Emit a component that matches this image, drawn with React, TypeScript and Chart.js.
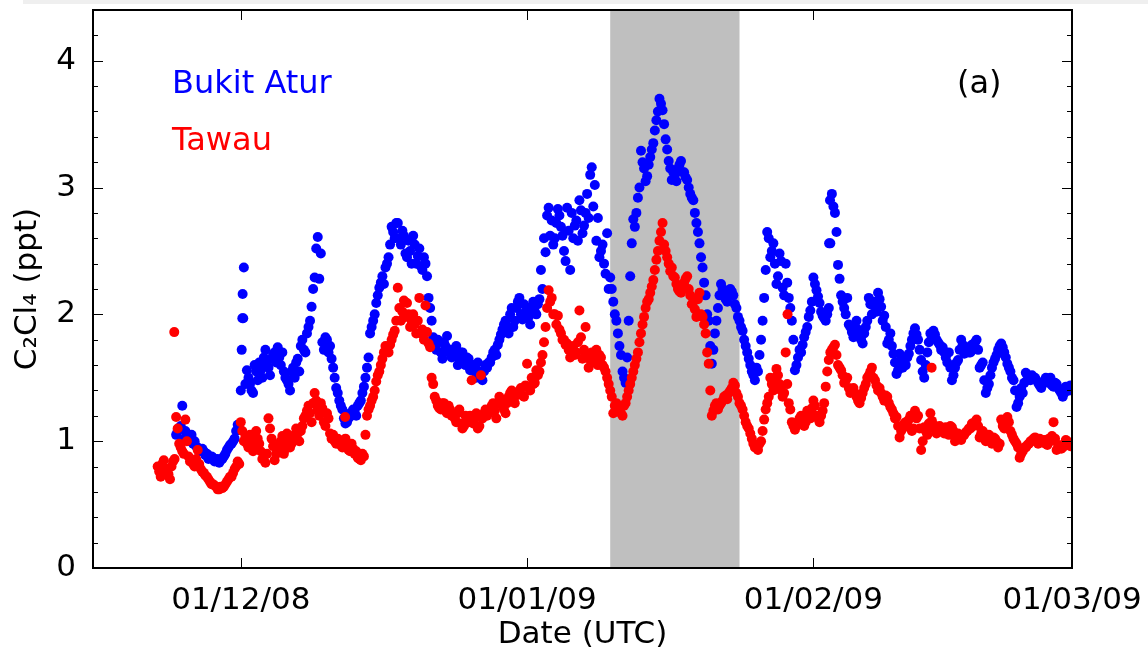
import React, { useEffect, useRef } from 'react';
import { Chart, registerables } from 'chart.js';

Chart.register(...registerables);

// ---- axis / category data (x in days relative to 01/12/2008) ----
const X_MIN_DAY = -16; // 15/11/08
const X_MAX_DAY = 90; // 01/03/09
const X_TICK_DAYS = [0, 31, 62, 90];
const X_TICK_LABELS = ['01/12/08', '01/01/09', '01/02/09', '01/03/09'];
const Y_TICKS = [0, 1, 2, 3, 4];
const Y_MAX = 4.4;
const SHADE_DAYS = [40, 54]; // 10/01/09 – 24/01/09
const SAMPLE_STEP_DAYS = 1 / 3; // 8-hourly samples per run
const RUN_B_OFFSET_DAYS = 1 / 6; // second, interleaved sample run

// ---- Bukit Atur (blue) ----
const BUKIT_START_DAY = -7;
const BUKIT_VALUES_A = [
  1.05, 1.10, 1.28, 1.08, 1.02, 1.05, 1.00, 0.95, 0.93, 0.92, 0.90, 0.88,
  0.87, 0.85, 0.83, 0.86, 0.90, 0.95, 0.98, 1.02, 1.13,
  1.40, 2.37, 1.56, 1.45, 1.38, 1.55, 1.62, 1.50, 1.72, 1.58, 1.65, 1.70,
  1.74, 1.60, 1.55, 1.48, 1.40, 1.58, 1.62, 1.55, 1.80, 1.70, 1.90, 2.06,
  2.29, 2.61, 2.48, 1.72, 1.80, 1.75, 1.58, 1.42, 1.32, 1.25, 1.14, 1.18,
  1.20, 1.24, 1.28, 1.32, 1.43, 1.58, 1.85, 1.95, 2.09, 2.21, 2.30, 2.37,
  2.45, 2.69, 2.60, 2.72, 2.55, 2.62, 2.45, 2.50, 2.62, 2.40, 2.52, 2.35,
  2.40, 2.13, 1.95, 1.75, 1.80, 1.70, 1.78, 1.83, 1.72, 1.68, 1.75, 1.65,
  1.70, 1.60, 1.65, 1.58, 1.55, 1.62, 1.50, 1.55, 1.58, 1.62, 1.70, 1.68,
  1.80, 1.88, 1.95, 1.85, 2.05, 1.95, 2.10, 2.00, 2.08, 2.05, 1.92, 2.10,
  2.00, 2.12, 2.20, 2.49, 2.84, 2.74, 2.60, 2.83, 2.69, 2.50, 2.84, 2.35,
  2.60, 2.74, 2.90, 2.64, 2.80, 2.76, 3.16, 3.02, 2.76, 2.50, 2.40, 2.64,
  2.29, 2.10, 1.95, 1.75, 1.55, 1.46, 1.95, 2.56, 2.69, 2.92, 3.29, 3.15,
  3.09, 3.24, 3.35, 3.53, 3.70, 3.61, 3.38, 3.21, 3.06, 3.10, 3.15, 3.21,
  3.12, 3.06, 2.95, 2.90, 2.72, 2.56, 2.37, 2.15, 1.95, 1.61, 1.85, 2.05,
  2.24, 2.19, 2.10, 2.20, 2.15, 2.05, 1.95, 1.87, 1.75, 1.65, 1.55, 1.48,
  1.55, 1.80, 2.13, 2.65, 2.45, 2.56, 2.24, 2.48, 2.21, 2.40, 2.13, 1.95,
  1.56, 1.66, 1.70, 1.82, 1.90, 2.03, 2.29, 2.19, 2.09, 1.99, 1.95, 2.05,
  2.95, 2.80, 2.39, 2.15, 2.05, 2.13, 1.90, 1.82, 1.95, 1.85, 1.77, 1.90,
  2.13, 2.00, 2.06, 2.17, 2.06, 1.99, 1.77, 1.85, 1.69, 1.53, 1.69, 1.58,
  1.60, 1.69, 1.80, 1.89, 1.80, 1.64, 1.50, 1.70, 1.85, 1.87, 1.80, 1.76,
  1.74, 1.66, 1.70, 1.48, 1.58, 1.64, 1.80, 1.69, 1.74, 1.70, 1.74, 1.80,
  1.58, 1.62, 1.38, 1.45, 1.58, 1.65, 1.72, 1.77, 1.70, 1.61, 1.55, 1.48,
  1.27, 1.35, 1.38, 1.54, 1.50, 1.52, 1.50, 1.46, 1.42, 1.46, 1.48, 1.50,
  1.43, 1.45, 1.40, 1.35, 1.43, 1.40, 1.42,
];
const BUKIT_VALUES_B = [
  1.08, 1.12, 1.02, 1.04, 1.00, 0.98, 0.96, 0.92, 0.94, 0.89, 0.86, 0.88,
  0.84, 0.86, 0.85, 0.88, 0.93, 0.97, 1.00, 1.08, 1.10,
  1.97, 1.45, 1.50, 1.40, 1.60, 1.48, 1.56, 1.66, 1.60, 1.52, 1.68, 1.62,
  1.66, 1.70, 1.50, 1.45, 1.55, 1.50, 1.65, 1.75, 1.72, 1.85, 1.95, 2.20,
  2.52, 2.28, 1.78, 1.82, 1.70, 1.65, 1.50, 1.38, 1.28, 1.18, 1.15, 1.22,
  1.25, 1.20, 1.30, 1.38, 1.50, 1.66, 1.90, 2.00, 2.15, 2.25, 2.24, 2.40,
  2.55, 2.65, 2.72, 2.60, 2.66, 2.48, 2.58, 2.40, 2.55, 2.46, 2.38, 2.45,
  2.30, 2.05, 1.82, 1.72, 1.78, 1.65, 1.75, 1.70, 1.66, 1.72, 1.60, 1.70,
  1.62, 1.66, 1.56, 1.60, 1.50, 1.55, 1.48, 1.60, 1.62, 1.66, 1.72, 1.76,
  1.84, 1.92, 1.90, 2.00, 1.90, 2.05, 2.13, 1.96, 2.02, 1.98, 2.06, 2.02,
  2.08, 2.35, 2.60, 2.78, 2.62, 2.55, 2.72, 2.78, 2.62, 2.42, 2.66, 2.80,
  2.70, 2.58, 2.82, 2.70, 2.95, 3.10, 2.85, 2.58, 2.45, 2.55, 2.32, 2.20,
  2.20, 2.00, 1.85, 1.68, 1.50, 1.66, 2.30, 2.75, 2.80, 3.00, 3.20, 3.05,
  3.18, 3.30, 3.45, 3.60, 3.66, 3.50, 3.30, 3.15, 3.12, 3.05, 3.18, 3.12,
  3.08, 3.00, 2.92, 2.80, 2.65, 2.45, 2.25, 2.00, 1.75, 1.72, 1.95, 2.15,
  2.20, 2.12, 2.15, 2.18, 2.08, 1.98, 1.90, 1.80, 1.70, 1.60, 1.52, 1.58,
  1.68, 1.95, 2.35, 2.60, 2.50, 2.40, 2.30, 2.42, 2.15, 2.25, 2.05, 1.80,
  1.60, 1.72, 1.76, 1.86, 1.98, 2.10, 2.24, 2.14, 2.02, 1.97, 2.00, 2.56,
  2.85, 2.65, 2.28, 2.10, 2.00, 1.92, 1.86, 1.90, 1.88, 1.80, 1.85, 1.95,
  2.08, 2.10, 2.02, 2.12, 1.95, 1.90, 1.80, 1.75, 1.62, 1.56, 1.64, 1.62,
  1.66, 1.75, 1.85, 1.84, 1.72, 1.55, 1.60, 1.78, 1.82, 1.84, 1.78, 1.72,
  1.70, 1.62, 1.58, 1.52, 1.62, 1.72, 1.76, 1.72, 1.70, 1.76, 1.78, 1.72,
  1.60, 1.48, 1.42, 1.52, 1.62, 1.68, 1.75, 1.74, 1.66, 1.58, 1.50, 1.40,
  1.30, 1.42, 1.46, 1.52, 1.48, 1.50, 1.48, 1.44, 1.46, 1.50, 1.46, 1.44,
  1.46, 1.42, 1.38, 1.38, 1.40, 1.44,
];
const BUKIT_EXTRA_DAYS = [0.1, 0.2, 0.27, 63.7, 63.8];
const BUKIT_EXTRA_VALUES = [1.72, 2.16, 1.97, 2.56, 2.9];

// ---- Tawau (red) ----
const TAWAU_START_DAY = -9;
const TAWAU_VALUES_A = [
  0.80, 0.72, 0.85, 0.78, 0.70, 0.84, 1.19, 0.98, 0.92, 1.17, 0.88, 0.85,
  0.80, 0.93, 0.78, 0.75, 0.72, 0.68, 0.66, 0.64, 0.62, 0.63, 0.66, 0.70,
  0.72, 0.78, 0.84, 1.15, 1.00, 0.98, 1.05, 0.92, 1.08, 0.98, 0.86, 0.83,
  1.18, 1.02, 0.85, 0.95, 1.00, 0.90, 1.06, 0.95, 1.02, 1.10, 1.00, 1.12,
  1.20, 1.28, 1.15, 1.38, 1.25, 1.30, 1.15, 1.22, 1.06, 1.05, 0.98, 1.00,
  0.95, 1.02, 0.93, 0.98, 0.90, 0.87, 0.85, 0.88, 1.20, 1.28, 1.35, 1.47,
  1.55, 1.65, 1.75, 1.70, 1.80, 1.87, 2.21, 1.95, 2.11, 2.09, 1.90, 2.00,
  1.85, 2.13, 1.88, 2.07, 1.77, 1.50, 1.35, 1.28, 1.25, 1.30, 1.22, 1.25,
  1.20, 1.15, 1.25, 1.10, 1.20, 1.15, 1.48, 1.18, 1.10, 1.52, 1.22, 1.20,
  1.25, 1.30, 1.18, 1.35, 1.28, 1.22, 1.35, 1.40, 1.30, 1.38, 1.42, 1.35,
  1.61, 1.40, 1.45, 1.56, 1.55, 1.68, 1.90, 2.19, 2.13, 2.00, 1.99, 1.85,
  1.80, 1.77, 1.66, 1.75, 1.70, 2.03, 1.65, 1.90, 1.58, 1.70, 1.66, 1.60,
  1.66, 1.58, 1.50, 1.40, 1.22, 1.30, 1.25, 1.20, 1.30, 1.40, 1.50, 1.60,
  1.70, 1.85, 1.98, 2.10, 2.17, 2.27, 2.43, 2.58, 2.72, 2.50, 2.40, 2.37,
  2.29, 2.20, 2.17, 2.25, 2.30, 2.15, 2.10, 1.98, 2.17, 1.98, 1.85, 1.61,
  1.20, 1.28, 1.25, 1.30, 1.35, 1.33, 1.40, 1.46, 1.38, 1.30, 1.25, 1.15,
  1.10, 1.02, 0.95, 0.93, 1.00, 1.17, 1.30, 1.50, 1.40, 1.57, 1.45, 1.35,
  1.70, 1.30, 1.15, 1.09, 1.15, 1.20, 1.12, 1.24, 1.18, 1.32, 1.20, 1.15,
  1.24, 1.43, 1.64, 1.72, 1.76, 1.60, 1.56, 1.46, 1.50, 1.38, 1.42, 1.35,
  1.30, 1.38, 1.45, 1.52, 1.58, 1.48, 1.40, 1.38, 1.32, 1.35, 1.27, 1.22,
  1.19, 1.03, 1.10, 1.15, 1.17, 1.08, 1.24, 1.20, 0.93, 1.11, 1.05, 1.22,
  1.10, 1.06, 1.12, 1.08, 1.11, 1.05, 1.11, 1.00, 1.06, 1.01, 1.05, 1.08,
  1.10, 1.12, 1.17, 1.03, 1.08, 1.00, 1.05, 0.98, 1.02, 0.95, 1.17, 1.10,
  1.19, 1.08, 1.02, 0.98, 0.87, 0.92, 0.95, 0.98, 1.00, 1.03, 0.98, 1.01,
  1.01, 0.97, 1.00, 1.15, 0.93, 0.96, 0.95, 1.01, 0.98, 0.97,
];
const TAWAU_VALUES_B = [
  0.76, 0.82, 0.74, 0.74, 0.80, 0.86, 1.10, 0.95, 0.90, 1.00, 0.84, 0.82,
  0.86, 0.82, 0.76, 0.73, 0.70, 0.66, 0.65, 0.62, 0.64, 0.64, 0.68, 0.72,
  0.75, 0.80, 0.82, 1.08, 1.03, 0.95, 1.00, 0.96, 1.02, 0.92, 0.88, 0.90,
  1.10, 0.96, 0.90, 0.98, 1.04, 0.94, 1.00, 0.98, 1.05, 1.06, 1.08, 1.18,
  1.24, 1.22, 1.30, 1.32, 1.20, 1.26, 1.12, 1.18, 1.02, 1.00, 1.02, 0.97,
  0.98, 0.96, 0.92, 0.94, 0.92, 0.86, 0.90, 1.05, 1.25, 1.32, 1.40, 1.52,
  1.60, 1.70, 1.72, 1.76, 1.84, 1.95, 2.05, 2.02, 1.98, 2.00, 1.95, 1.92,
  1.95, 1.85, 1.80, 1.86, 1.74, 1.45, 1.32, 1.26, 1.30, 1.24, 1.28, 1.20,
  1.18, 1.22, 1.14, 1.12, 1.17, 1.20, 1.14, 1.22, 1.12, 1.18, 1.25, 1.22,
  1.28, 1.24, 1.30, 1.32, 1.25, 1.30, 1.38, 1.32, 1.36, 1.40, 1.36, 1.44,
  1.42, 1.50, 1.46, 1.52, 1.62, 1.78, 2.05, 2.10, 2.00, 1.92, 1.88, 1.80,
  1.76, 1.72, 1.70, 1.68, 1.78, 1.82, 1.72, 1.68, 1.64, 1.62, 1.72, 1.68,
  1.60, 1.55, 1.45, 1.35, 1.28, 1.24, 1.22, 1.28, 1.35, 1.45, 1.55, 1.65,
  1.78, 1.92, 2.05, 2.12, 2.22, 2.35, 2.50, 2.65, 2.55, 2.45, 2.34, 2.30,
  2.24, 2.18, 2.22, 2.28, 2.20, 2.08, 2.04, 2.12, 2.00, 1.92, 1.70, 1.40,
  1.24, 1.30, 1.28, 1.32, 1.36, 1.38, 1.42, 1.44, 1.35, 1.28, 1.20, 1.12,
  1.06, 0.98, 0.96, 0.98, 1.08, 1.25, 1.35, 1.45, 1.50, 1.52, 1.40, 1.38,
  1.45, 1.25, 1.12, 1.12, 1.18, 1.16, 1.15, 1.22, 1.26, 1.28, 1.18, 1.20,
  1.30, 1.55, 1.70, 1.74, 1.68, 1.58, 1.52, 1.48, 1.42, 1.40, 1.38, 1.32,
  1.34, 1.42, 1.50, 1.55, 1.50, 1.44, 1.42, 1.35, 1.36, 1.30, 1.25, 1.18,
  1.12, 1.08, 1.14, 1.12, 1.20, 1.10, 1.18, 1.10, 1.00, 1.08, 1.14, 1.16,
  1.12, 1.08, 1.10, 1.06, 1.09, 1.12, 1.08, 1.04, 1.02, 1.04, 1.07, 1.10,
  1.14, 1.15, 1.12, 1.06, 1.02, 1.04, 1.00, 1.03, 1.00, 0.98, 1.12, 1.14,
  1.15, 1.05, 1.00, 0.95, 0.90, 0.95, 0.97, 1.00, 1.02, 1.00, 1.02, 0.99,
  0.98, 1.02, 1.04, 1.02, 0.97, 0.94, 0.98, 1.00, 0.96,
];
const TAWAU_EXTRA_DAYS = [-7.2, 11.3, 59.2, 74.8];
const TAWAU_EXTRA_VALUES = [1.86, 1.19, 2.0, 1.58];

const FONT = '"DejaVu Sans", sans-serif';

function buildPoints(
  start: number,
  runA: number[],
  runB: number[],
  extraDays: number[],
  extraValues: number[],
) {
  const pts = runA.map((v, i) => ({ x: start + i * SAMPLE_STEP_DAYS, y: v }));
  runB.forEach((v, i) => pts.push({ x: start + RUN_B_OFFSET_DAYS + i * SAMPLE_STEP_DAYS, y: v }));
  extraDays.forEach((d, i) => pts.push({ x: d, y: extraValues[i] }));
  return pts;
}

const decorPlugin = {
  id: 'decor',
  beforeDatasetsDraw(chart: any) {
    const { ctx, chartArea: a, scales } = chart;
    const x0 = scales.x.getPixelForValue(SHADE_DAYS[0]);
    const x1 = scales.x.getPixelForValue(SHADE_DAYS[1]);
    ctx.save();
    ctx.fillStyle = '#bfbfbf';
    ctx.fillRect(x0, a.top, x1 - x0, a.bottom - a.top);
    ctx.restore();
  },
  afterDraw(chart: any) {
    const { ctx, chartArea: a, scales } = chart;
    const xs = scales.x;
    const ys = scales.y;
    ctx.save();
    ctx.strokeStyle = '#000';
    ctx.lineWidth = 1;
    ctx.beginPath();
    for (let k = 1; k * 0.2 < Y_MAX - 1e-6; k++) {
      const v = k * 0.2;
      const major = k % 5 === 0;
      const len = major ? 10 : 5;
      const py = Math.round(ys.getPixelForValue(v)) + 0.5;
      ctx.moveTo(a.left, py);
      ctx.lineTo(a.left + len, py);
      ctx.moveTo(a.right, py);
      ctx.lineTo(a.right - len, py);
    }
    for (const d of X_TICK_DAYS) {
      const px = Math.round(xs.getPixelForValue(d)) + 0.5;
      ctx.moveTo(px, a.bottom);
      ctx.lineTo(px, a.bottom - 10);
      ctx.moveTo(px, a.top);
      ctx.lineTo(px, a.top + 10);
    }
    ctx.stroke();
    ctx.lineWidth = 2;
    ctx.strokeRect(a.left, a.top, a.right - a.left, a.bottom - a.top);

    ctx.font = `32px ${FONT}`;
    ctx.textBaseline = 'alphabetic';
    ctx.textAlign = 'left';
    ctx.fillStyle = '#0000ff';
    ctx.fillText('Bukit Atur', a.left + 79, a.top + 83);
    ctx.fillStyle = '#ff0000';
    ctx.fillText('Tawau', a.left + 79, a.top + 140);
    ctx.fillStyle = '#000';
    ctx.fillText('(a)', a.right - 115, a.top + 83);
    ctx.restore();
  },
};

export default function App() {
  const canvasRef = useRef<HTMLCanvasElement | null>(null);

  useEffect(() => {
    const canvas = canvasRef.current;
    if (!canvas) return;
    const bukit = buildPoints(BUKIT_START_DAY, BUKIT_VALUES_A, BUKIT_VALUES_B, BUKIT_EXTRA_DAYS, BUKIT_EXTRA_VALUES);
    const tawau = buildPoints(TAWAU_START_DAY, TAWAU_VALUES_A, TAWAU_VALUES_B, TAWAU_EXTRA_DAYS, TAWAU_EXTRA_VALUES);

    const chart = new Chart(canvas, {
      type: 'scatter',
      data: {
        datasets: [
          {
            label: 'Bukit Atur',
            data: bukit,
            backgroundColor: '#0000ff',
            borderWidth: 0,
            pointRadius: 5,
            pointBorderWidth: 0,
            order: 1,
            clip: 0,
          },
          {
            label: 'Tawau',
            data: tawau,
            backgroundColor: '#ff0000',
            borderWidth: 0,
            pointRadius: 5,
            pointBorderWidth: 0,
            order: 0,
            clip: 0,
          },
        ],
      },
      options: {
        responsive: false,
        animation: false,
        events: [],
        layout: { padding: { left: 0, top: 10, right: 76, bottom: 0 } },
        plugins: {
          legend: { display: false },
          tooltip: { enabled: false },
        },
        scales: {
          x: {
            type: 'linear',
            min: X_MIN_DAY,
            max: X_MAX_DAY,
            grid: { display: false },
            border: { display: false },
            afterBuildTicks: (s: any) => {
              s.ticks = X_TICK_DAYS.map((v) => ({ value: v }));
            },
            afterFit: (s: any) => {
              s.height = 86;
              s.paddingLeft = 0;
              s.paddingRight = 0;
            },
            ticks: {
              autoSkip: false,
              maxRotation: 0,
              minRotation: 0,
              padding: 6,
              color: '#000',
              font: { family: FONT, size: 31 },
              callback: (v: any) => X_TICK_LABELS[X_TICK_DAYS.indexOf(Number(v))] ?? '',
            },
            title: {
              display: true,
              text: 'Date (UTC)',
              color: '#000',
              font: { family: FONT, size: 31 },
              padding: { top: 0, bottom: 0 },
            },
          },
          y: {
            type: 'linear',
            min: 0,
            max: Y_MAX,
            grid: { display: false },
            border: { display: false },
            afterBuildTicks: (s: any) => {
              s.ticks = Y_TICKS.map((v) => ({ value: v }));
            },
            afterFit: (s: any) => {
              s.width = 93;
              s.paddingTop = 0;
              s.paddingBottom = 0;
            },
            ticks: {
              padding: 9,
              color: '#000',
              font: { family: FONT, size: 31 },
              callback: (v: any) => String(v),
            },
            title: {
              display: true,
              text: 'C₂Cl₄ (ppt)',
              color: '#000',
              font: { family: FONT, size: 31 },
              padding: { top: 9, bottom: 0 },
            },
          },
        },
      },
      plugins: [decorPlugin],
    } as any);

    return () => chart.destroy();
  }, []);

  return (
    <div style={{ position: 'absolute', left: 0, top: 0, width: 1148, height: 654, background: '#fff' }}>
      <div style={{ position: 'absolute', left: 23, top: 0, width: 1125, height: 4, background: '#efefef' }} />
      <canvas ref={canvasRef} width={1148} height={654} style={{ display: 'block', width: 1148, height: 654 }} />
    </div>
  );
}
